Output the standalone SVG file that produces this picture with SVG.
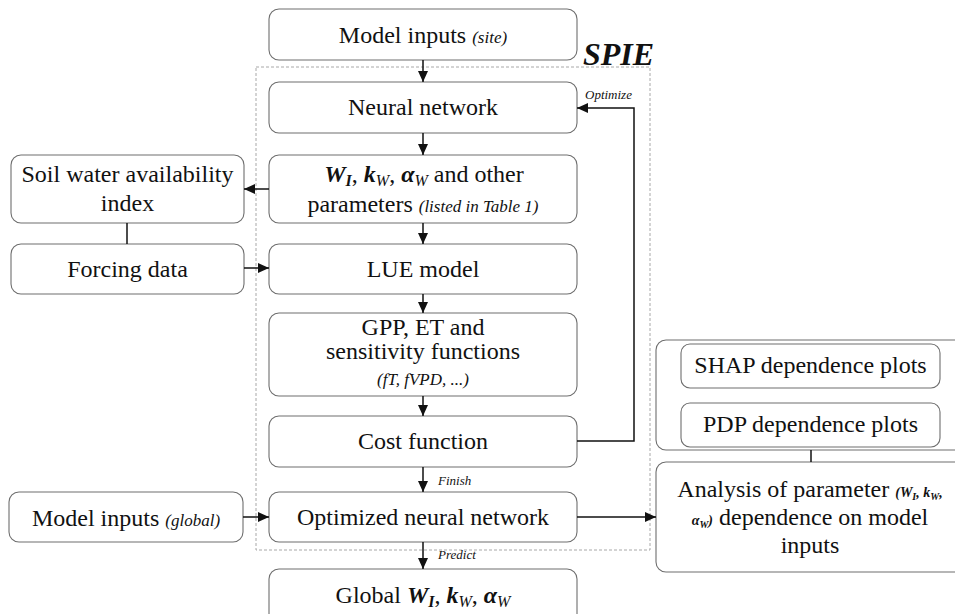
<svg xmlns="http://www.w3.org/2000/svg" width="955" height="614" viewBox="0 0 955 614">
<style>
  .box { fill: #ffffff; stroke: #6e6e6e; stroke-width: 1.1; }
  .t { font-family: 'Liberation Serif', 'Times New Roman', serif; font-size: 24px; fill: #111; }
  .m { text-anchor: middle; }
  .it { font-style: italic; font-size: 17px; }
  .bi { font-style: italic; font-weight: bold; }
  .sub { font-style: italic; font-size: 16px; }
  .lbl { font-family: 'Liberation Serif', 'Times New Roman', serif; font-style: italic; font-size: 13px; fill: #111; }
  .con { fill: none; stroke: #111; stroke-width: 1.5; }
  .dash { fill: none; stroke: #a8a8a8; stroke-width: 1; stroke-dasharray: 3 2; }
</style>
<defs>
  <marker id="ah" markerUnits="userSpaceOnUse" markerWidth="12" markerHeight="10" refX="11" refY="5" orient="auto">
    <path d="M0,0 L11,5 L0,10 Z" fill="#111"/>
  </marker>
</defs>
<rect width="955" height="614" fill="#ffffff"/>

<g id="spie">
  <rect class="dash" x="256" y="67" width="394" height="483"/>
  <text class="t" x="583" y="65" style="font-size:32px;font-weight:bold;font-style:italic">SPIE</text>
</g>

<g id="n_site">
  <rect class="box" x="269" y="9" width="308" height="51" rx="10"/>
  <text class="t m" x="423" y="43">Model inputs <tspan class="it">(site)</tspan></text>
</g>
<g id="n_nn">
  <rect class="box" x="269" y="82" width="308" height="51" rx="10"/>
  <text class="t m" x="423" y="115">Neural network</text>
</g>
<g id="n_params">
  <rect class="box" x="269" y="155" width="308" height="68" rx="10"/>
  <text class="t m" x="424" y="182"><tspan class="bi">W</tspan><tspan class="bi" font-size="16" dy="4">I</tspan><tspan dy="-4">, </tspan><tspan class="bi">k</tspan><tspan class="sub" dy="4">W</tspan><tspan dy="-4">, </tspan><tspan class="bi">α</tspan><tspan class="sub" dy="4">W</tspan><tspan dy="-4"> and other</tspan></text>
  <text class="t m" x="423" y="212">parameters <tspan class="it">(listed in Table 1)</tspan></text>
</g>
<g id="n_lue">
  <rect class="box" x="269" y="244" width="308" height="50" rx="10"/>
  <text class="t m" x="423" y="277">LUE model</text>
</g>
<g id="n_gpp">
  <rect class="box" x="269" y="313" width="308" height="83" rx="10"/>
  <text class="t m" x="423" y="335">GPP, ET and</text>
  <text class="t m" x="423" y="359">sensitivity functions</text>
  <text class="t m it" x="423" y="385">(fT, fVPD, ...)</text>
</g>
<g id="n_cost">
  <rect class="box" x="269" y="416" width="308" height="51" rx="10"/>
  <text class="t m" x="423" y="449">Cost function</text>
</g>
<g id="n_opt">
  <rect class="box" x="269" y="492" width="308" height="50" rx="10"/>
  <text class="t m" x="423" y="525">Optimized neural network</text>
</g>
<g id="n_global">
  <rect class="box" x="269" y="569" width="308" height="60" rx="10"/>
  <text class="t m" x="423" y="603">Global <tspan class="bi">W</tspan><tspan class="bi" font-size="16" dy="4">I</tspan><tspan dy="-4">, </tspan><tspan class="bi">k</tspan><tspan class="sub" dy="4">W</tspan><tspan dy="-4">, </tspan><tspan class="bi">α</tspan><tspan class="sub" dy="4">W</tspan></text>
</g>
<g id="n_soil">
  <rect class="box" x="11" y="155" width="233" height="68" rx="10"/>
  <text class="t m" x="127.5" y="182">Soil water availability</text>
  <text class="t m" x="127.5" y="211">index</text>
</g>
<g id="n_forcing">
  <rect class="box" x="11" y="244" width="233" height="50" rx="10"/>
  <text class="t m" x="127.5" y="277">Forcing data</text>
</g>
<g id="n_mglobal">
  <rect class="box" x="9" y="492" width="234" height="50" rx="10"/>
  <text class="t m" x="126" y="526">Model inputs <tspan class="it">(global)</tspan></text>
</g>
<g id="g_plots">
  <rect class="box" x="656" y="340" width="320" height="110" rx="10"/>
</g>
<g id="n_shap">
  <rect class="box" x="681" y="344" width="259" height="44" rx="9"/>
  <text class="t m" x="810.5" y="373">SHAP dependence plots</text>
</g>
<g id="n_pdp">
  <rect class="box" x="681" y="403" width="259" height="44" rx="9"/>
  <text class="t m" x="810.5" y="432">PDP dependence plots</text>
</g>
<g id="n_analysis">
  <rect class="box" x="656" y="462" width="320" height="110" rx="10"/>
  <text class="t m" x="810" y="497">Analysis of parameter <tspan font-size="14" class="bi">(W</tspan><tspan font-size="10" class="bi" dy="3">I</tspan><tspan font-size="14" class="bi" dy="-3">, k</tspan><tspan font-size="10" class="bi" dy="3">W</tspan><tspan font-size="14" class="bi" dy="-3">,</tspan></text>
  <text class="t m" x="810" y="525"><tspan font-size="14" class="bi">α</tspan><tspan font-size="10" class="bi" dy="3">W</tspan><tspan font-size="14" class="bi" dy="-3">)</tspan> dependence on model</text>
  <text class="t m" x="810" y="553">inputs</text>
</g>

<g id="connectors">
  <line class="con" x1="423" y1="60" x2="423" y2="82" marker-end="url(#ah)"/>
  <line class="con" x1="423" y1="133" x2="423" y2="155" marker-end="url(#ah)"/>
  <line class="con" x1="269" y1="189" x2="244" y2="189" marker-end="url(#ah)"/>
  <line class="con" x1="127" y1="223" x2="127" y2="244"/>
  <line class="con" x1="244" y1="268" x2="269" y2="268" marker-end="url(#ah)"/>
  <line class="con" x1="423" y1="223" x2="423" y2="244" marker-end="url(#ah)"/>
  <line class="con" x1="423" y1="294" x2="423" y2="313" marker-end="url(#ah)"/>
  <line class="con" x1="423" y1="396" x2="423" y2="416" marker-end="url(#ah)"/>
  <polyline class="con" points="577,441 634,441 634,108 577,108" marker-end="url(#ah)"/>
  <line class="con" x1="423" y1="467" x2="423" y2="492" marker-end="url(#ah)"/>
  <line class="con" x1="243" y1="517" x2="269" y2="517" marker-end="url(#ah)"/>
  <line class="con" x1="577" y1="517" x2="656" y2="517" marker-end="url(#ah)"/>
  <line class="con" x1="423" y1="542" x2="423" y2="569" marker-end="url(#ah)"/>
  <line class="con" x1="811" y1="450" x2="811" y2="462"/>
  <text class="lbl" x="585" y="99">Optimize</text>
  <text class="lbl" x="438" y="485">Finish</text>
  <text class="lbl" x="438" y="559">Predict</text>
</g>
</svg>
